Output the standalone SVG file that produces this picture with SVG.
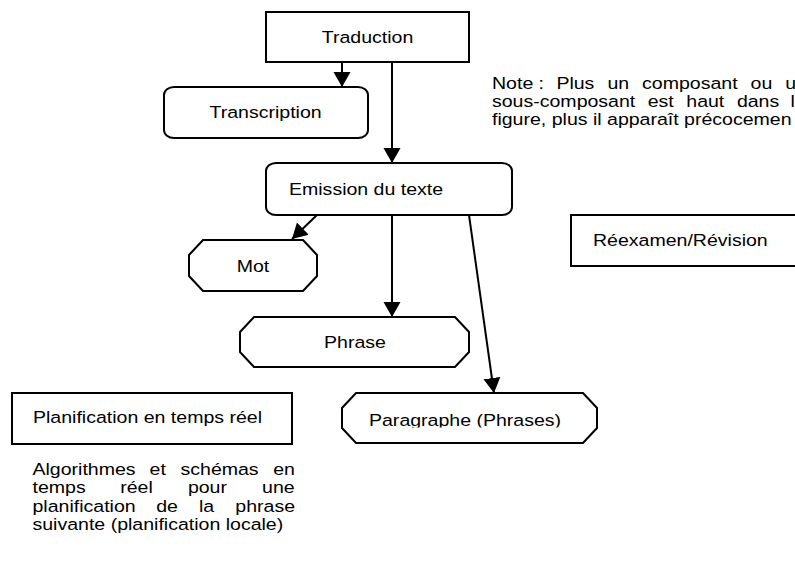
<svg xmlns="http://www.w3.org/2000/svg" width="795" height="572" viewBox="0 0 795 572">
<style>
  .shape { fill: #ffffff; stroke: #000000; stroke-width: 2; }
  .open { fill: none; stroke: #000000; stroke-width: 2; }
  .lbl { font-family: "Liberation Sans", Arial, Helvetica, sans-serif; font-size: 17px; fill: #000000; }
  .mid { text-anchor: middle; }
  .conn { fill: none; stroke: #000000; stroke-width: 2; marker-end: url(#arrow); }
</style>
<defs>
  <marker id="arrow" markerUnits="userSpaceOnUse" markerWidth="16" markerHeight="20" viewBox="0 -10 16 20" refX="15" refY="0" orient="auto">
    <path d="M0,-8.5 L15,0 L0,8.5 Z" fill="#000000"/>
  </marker>
  <clipPath id="paraClip" clipPathUnits="userSpaceOnUse">
    <rect x="0" y="380" width="700" height="47.5"/>
  </clipPath>
</defs>
<rect x="0" y="0" width="795" height="572" fill="#ffffff"/>

<g id="connectors">
  <line class="conn" x1="342" y1="62" x2="342" y2="87"/>
  <line class="conn" x1="392" y1="62" x2="392" y2="163"/>
  <line class="conn" x1="317" y1="215" x2="292" y2="239"/>
  <line class="conn" x1="392" y1="215" x2="392" y2="317"/>
  <line class="conn" x1="469" y1="215" x2="494" y2="393"/>
</g>

<g id="traduction">
  <rect class="shape" x="266" y="12" width="203" height="50"/>
  <text class="lbl mid" transform="scale(1.15,1)" x="319.57" y="43">Traduction</text>
</g>

<g id="transcription">
  <rect class="shape" x="164" y="87" width="204" height="51" rx="10" ry="8"/>
  <text class="lbl" transform="scale(1.15,1)" x="182.17" y="118.5">Transcription</text>
</g>

<g id="emission">
  <rect class="shape" x="266" y="163" width="246" height="52" rx="10" ry="8"/>
  <text class="lbl" transform="scale(1.15,1)" x="251.3" y="195">Emission du texte</text>
</g>

<g id="mot">
  <polygon class="shape" points="203,240 303,240 317,255 317,276 303,291 203,291 189,276 189,255"/>
  <text class="lbl mid" transform="scale(1.15,1)" x="220" y="272">Mot</text>
</g>

<g id="phrase">
  <polygon class="shape" points="254,317 455,317 469,332 469,352 455,367 254,367 240,352 240,332"/>
  <text class="lbl mid" transform="scale(1.15,1)" x="308.7" y="348">Phrase</text>
</g>

<g id="paragraphe">
  <polygon class="shape" points="356,393 583,393 597,408 597,428 583,443 356,443 342,428 342,408"/>
  <text class="lbl" transform="scale(1.15,1)" x="320.87" y="426" clip-path="url(#paraClip)">Paragraphe (Phrases)</text>
</g>

<g id="planification">
  <rect class="shape" x="12" y="393" width="280" height="51"/>
  <text class="lbl" transform="scale(1.15,1)" x="28.7" y="423.5">Planification en temps réel</text>
</g>

<g id="reexamen">
  <rect x="571" y="215" width="224" height="51" fill="#ffffff"/>
  <path class="open" d="M795,215 H571 V266 H795"/>
  <text class="lbl" transform="scale(1.15,1)" x="515.65" y="246">Réexamen/Révision</text>
</g>

<g id="note">
  <text class="lbl" transform="scale(1.15,1)" y="89"><tspan x="427.83">Note</tspan><tspan x="468.35">:</tspan><tspan x="483.83">Plus</tspan><tspan x="528.17">un</tspan><tspan x="558.35">composant</tspan><tspan x="652.7">ou</tspan><tspan x="682.87">u</tspan></text>
  <text class="lbl" transform="scale(1.15,1)" y="107"><tspan x="427.83">sous-composant</tspan><tspan x="563.22">est</tspan><tspan x="596.78">haut</tspan><tspan x="640.78">dans</tspan><tspan x="687.39">l</tspan></text>
  <text class="lbl" transform="scale(1.15,1)" x="427.83" y="125">figure, plus il apparaît précocemen</text>
</g>

<g id="algorithmes">
  <text class="lbl" transform="scale(1.15,1)" y="475"><tspan x="28.26">Algorithmes</tspan><tspan x="130.09">et</tspan><tspan x="156.96">schémas</tspan><tspan x="237.57">en</tspan></text>
  <text class="lbl" transform="scale(1.15,1)" y="493.5"><tspan x="28.26">temps</tspan><tspan x="104.52">réel</tspan><tspan x="163.39">pour</tspan><tspan x="227.91">une</tspan></text>
  <text class="lbl" transform="scale(1.15,1)" y="512"><tspan x="28.26">planification</tspan><tspan x="135.83">de</tspan><tspan x="173.04">la</tspan><tspan x="204.61">phrase</tspan></text>
  <text class="lbl" transform="scale(1.15,1)" x="28.26" y="530">suivante (planification locale)</text>
</g>
</svg>
